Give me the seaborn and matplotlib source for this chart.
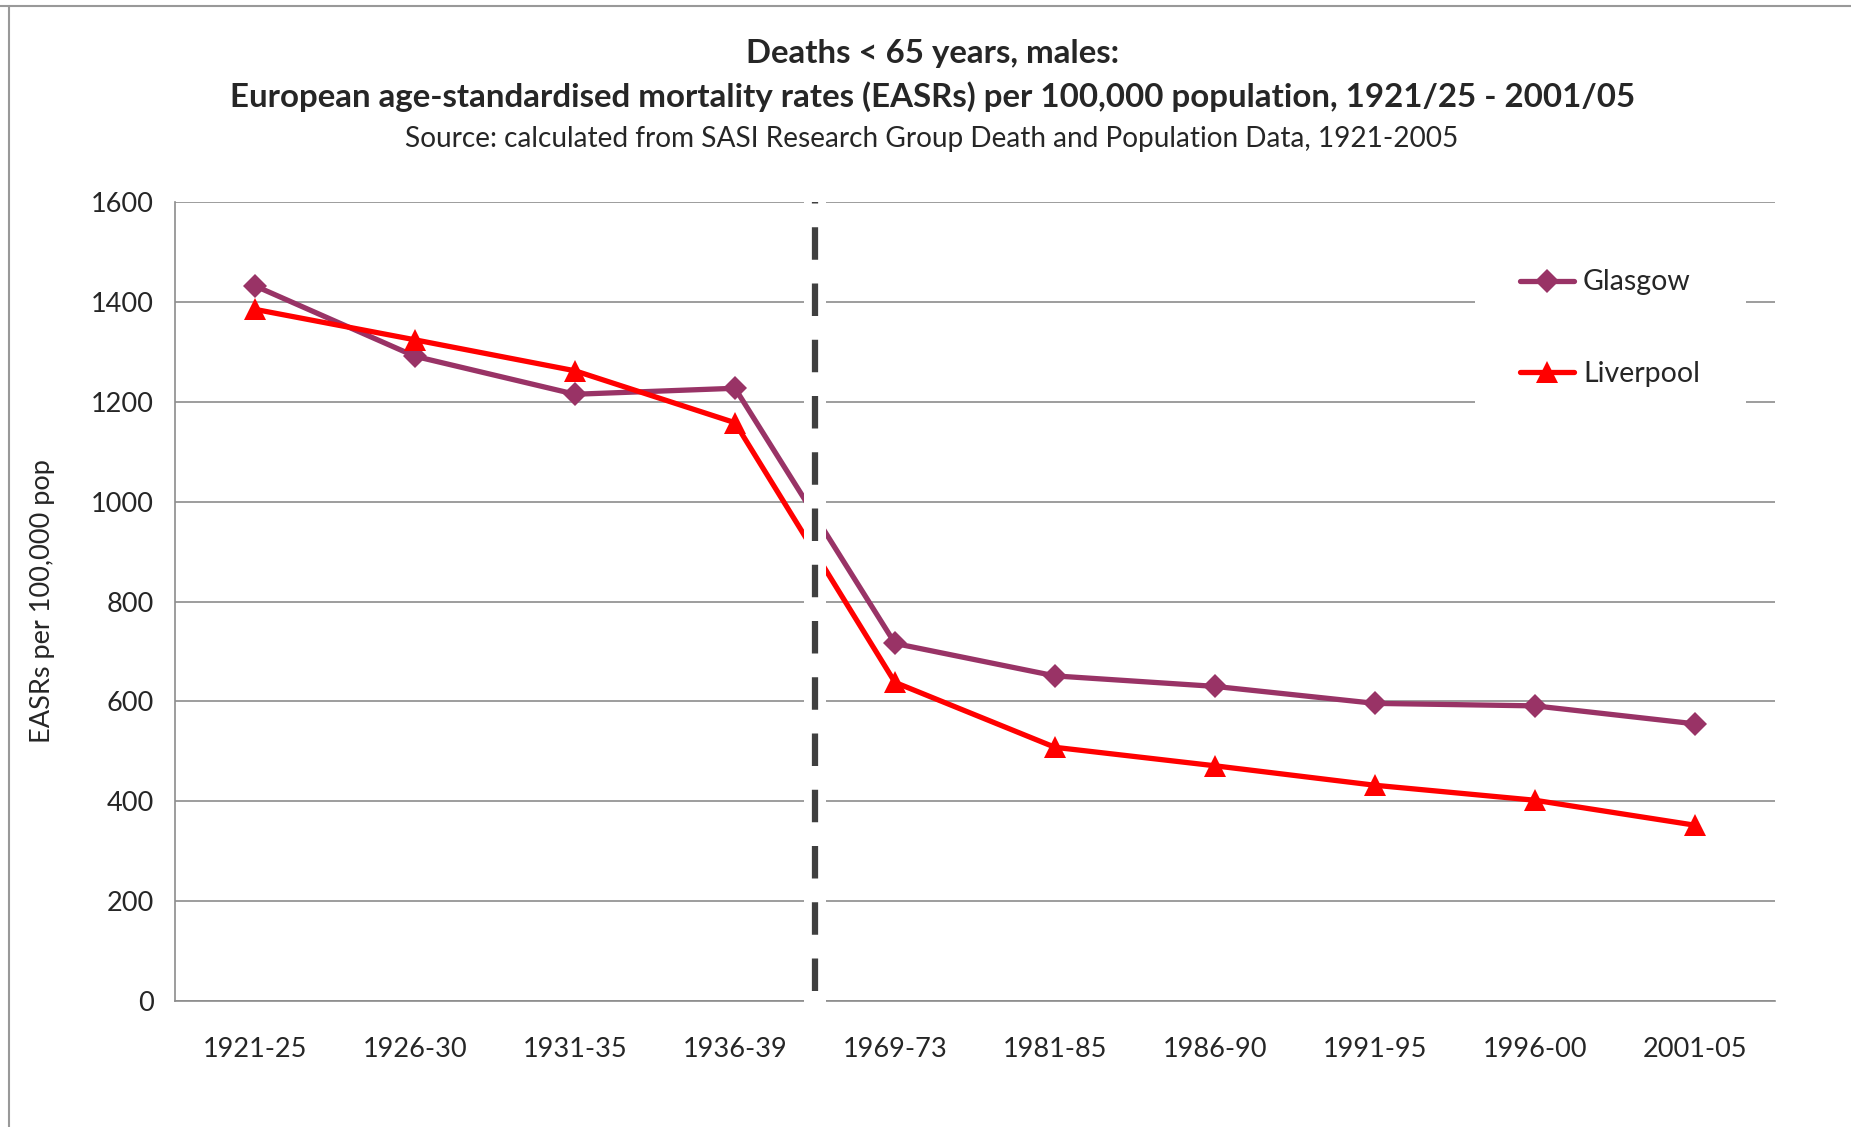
import numpy as np
import pandas as pd
import seaborn as sns
import matplotlib
matplotlib.use("Agg")
import matplotlib.pyplot as plt
from matplotlib.lines import Line2D
from matplotlib.ticker import FixedLocator, NullFormatter

periods = ["1921-25", "1926-30", "1931-35", "1936-39", "1969-73",
           "1981-85", "1986-90", "1991-95", "1996-00", "2001-05"]
glasgow = [1432, 1291, 1215, 1227, 716, 651, 630, 596, 591, 555]
liverpool = [1385, 1324, 1262, 1158, 638, 508, 471, 432, 402, 352]
series_names = ["Glasgow", "Liverpool"]
y_ticks = [0, 200, 400, 600, 800, 1000, 1200, 1400, 1600]

title1 = "Deaths < 65 years, males:"
title2 = "European age-standardised mortality rates (EASRs) per 100,000 population, 1921/25 - 2001/05"
subtitle = "Source: calculated from SASI Research Group Death and Population Data, 1921-2005"
ylabel = "EASRs per 100,000 pop"

df = pd.DataFrame({
    "period": periods * 2,
    "value": glasgow + liverpool,
    "city": [series_names[0]] * len(periods) + [series_names[1]] * len(periods),
})

sns.set_style("white")
plt.rcParams["font.family"] = ["Lato", "DejaVu Sans"]

W, H = 1851, 1127
fig = plt.figure(figsize=(W / 100, H / 100), dpi=100)
ax = fig.add_axes([175 / W, 1 - 1001 / H, 1600 / W, 799 / H])

palette = {"Glasgow": "#993366", "Liverpool": "#FF0000"}
markers = {"Glasgow": "D", "Liverpool": "^"}
sns.lineplot(data=df, x="period", y="value", hue="city", style="city",
             palette=palette, markers=markers, dashes=False, sort=False,
             linewidth=3.8, markersize=12, markeredgewidth=0, ax=ax, zorder=2)

# larger triangles for Liverpool (data lines and legend handles)
for ln in ax.lines:
    if ln.get_marker() == "^":
        ln.set_markersize(15.5)

n = len(periods)
ax.set_xlim(-0.5, n - 0.5)
ax.set_ylim(0, 1600)
ax.set_yticks(y_ticks)
ax.yaxis.grid(True, color="#8c8c8c", linewidth=1.2)
ax.set_axisbelow(True)

# x ticks: marks at category boundaries, labels at centres
ax.xaxis.set_major_locator(FixedLocator(np.arange(n + 1) - 0.5))
ax.xaxis.set_major_formatter(NullFormatter())
ax.set_xticks(np.arange(n), labels=periods, minor=True)
ax.tick_params(axis="x", which="major", direction="out", length=9,
               color="#8c8c8c", width=1.2)
ax.tick_params(axis="x", which="minor", length=0, pad=26, labelsize=19.5)
ax.tick_params(axis="y", direction="out", length=7, color="#8c8c8c",
               width=1.2, labelsize=19.5, pad=8)
ax.set_xlabel("")
ax.set_ylabel(ylabel, fontsize=19.5, labelpad=26)

for s in ["top", "right"]:
    ax.spines[s].set_visible(False)
for s in ["left", "bottom"]:
    ax.spines[s].set_color("#8c8c8c")
    ax.spines[s].set_linewidth(1.2)

# break between the two eras
ax.axvspan(3.43, 3.57, ymin=-0.004, ymax=1, color="white", zorder=3,
           clip_on=False, linewidth=0)
ax.axvline(3.5, ymin=0.012, ymax=1, color="#404040", linewidth=4.5,
           dashes=(5.2, 3.8), zorder=4)

handles, labels = ax.get_legend_handles_labels()
for h in handles:
    if h.get_marker() == "^":
        h.set_markersize(15.5)
leg = ax.legend(handles, labels, loc="center", bbox_to_anchor=(0.897, 0.842),
                frameon=True, facecolor="white", edgecolor="none",
                fontsize=20.5, handlelength=1.9, labelspacing=2.3,
                borderpad=1.6, handletextpad=0.3, framealpha=1)
leg.set_zorder(5)

fig.text(0.5036, 1 - 53 / H, title1, ha="center", va="center",
         fontsize=23.8, fontweight="bold")
fig.text(0.5036, 1 - 97 / H, title2, ha="center", va="center",
         fontsize=23.8, fontweight="bold")
fig.text(0.5036, 1 - 139 / H, subtitle, ha="center", va="center",
         fontsize=20.2)

# chart border (top and left visible)
fig.add_artist(Line2D([0, 1], [1 - 6 / H, 1 - 6 / H], color="#999999",
                      linewidth=1.5, transform=fig.transFigure))
fig.add_artist(Line2D([9 / W, 9 / W], [0, 1 - 6 / H], color="#999999",
                      linewidth=1.5, transform=fig.transFigure))

fig.savefig("out.png", dpi=100)
